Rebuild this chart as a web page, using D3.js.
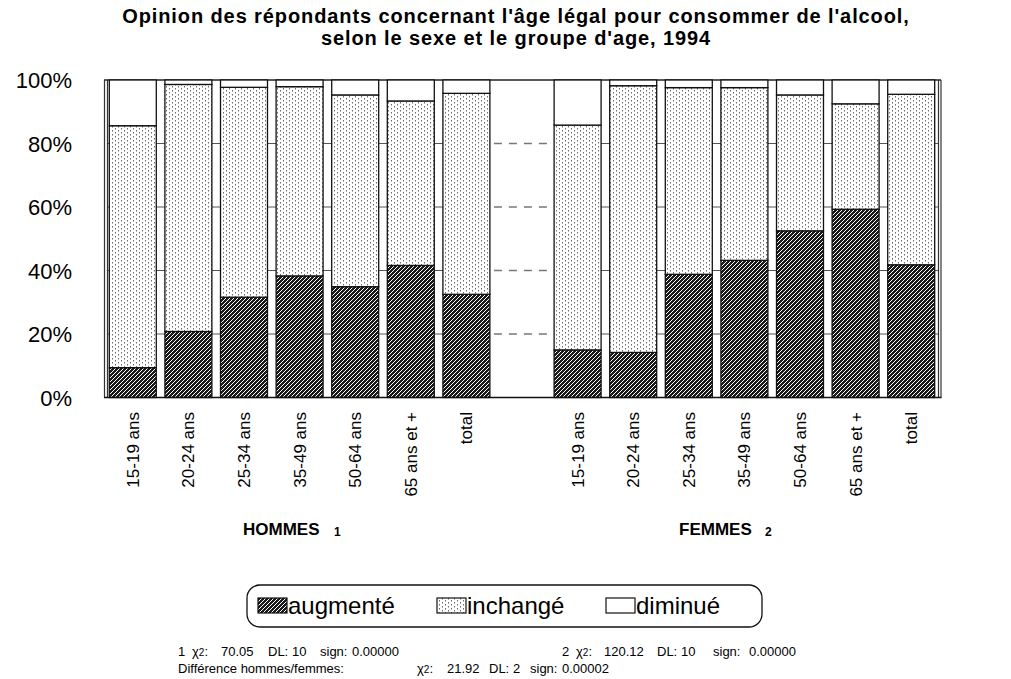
<!DOCTYPE html>
<html><head><meta charset="utf-8">
<script src="https://cdn.jsdelivr.net/npm/d3@7"></script>
<style>body{margin:0;background:#fff;} svg{display:block;font-family:"Liberation Sans",Arial,Helvetica,sans-serif;} .pre{white-space:pre;}</style>
</head><body><svg id="c" width="1011" height="679"></svg>
<script>
// ---------- data ----------
const groups = ["HOMMES", "FEMMES"];
const groupNotes = ["1", "2"];
const ageGroups = ["15-19 ans","20-24 ans","25-34 ans","35-49 ans","50-64 ans","65 ans et +","total"];
const seriesNames = ["augmenté","inchangé","diminué"];
const hommesAugmente = [9.4, 20.8, 31.6, 38.3, 34.9, 41.6, 32.5];
const hommesInchange = [76.2, 77.8, 66.1, 59.6, 60.4, 51.8, 63.3];
const hommesDiminue  = [14.4, 1.4, 2.3, 2.1, 4.7, 6.6, 4.2];
const femmesAugmente = [15.0, 14.2, 38.8, 43.2, 52.5, 59.3, 41.8];
const femmesInchange = [70.8, 84.0, 58.8, 54.4, 42.8, 33.2, 53.7];
const femmesDiminue  = [14.2, 1.8, 2.4, 2.4, 4.7, 7.5, 4.5];
const yTicks = [0, 20, 40, 60, 80, 100];

// ---------- build rows ----------
const rows = [];
ageGroups.forEach((a,i)=>rows.push({key:"H|"+a, label:a, group:0, v:[hommesAugmente[i],hommesInchange[i],hommesDiminue[i]]}));
const gapKey = "gap";
ageGroups.forEach((a,i)=>rows.push({key:"F|"+a, label:a, group:1, v:[femmesAugmente[i],femmesInchange[i],femmesDiminue[i]]}));
const domain = rows.slice(0,7).map(d=>d.key).concat([gapKey], rows.slice(7).map(d=>d.key));

const svg = d3.select("#c");
const defs = svg.append("defs");
// hatch pattern (augmenté)
const ph = defs.append("pattern").attr("id","pAug").attr("patternUnits","userSpaceOnUse").attr("width",4).attr("height",4);
ph.append("rect").attr("width",4).attr("height",4).attr("fill","#1a1a1a");
ph.append("path").attr("d","M-1,1 L1,-1 M0,4 L4,0 M3,5 L5,3").attr("stroke","#fff").attr("stroke-width",1);
// dotted pattern (inchangé)
const pd = defs.append("pattern").attr("id","pInc").attr("patternUnits","userSpaceOnUse").attr("width",6).attr("height",4);
pd.append("rect").attr("width",6).attr("height",4).attr("fill","#fff");
pd.append("rect").attr("x",1).attr("y",0).attr("width",1).attr("height",1.5).attr("fill","#6a6a6a");
pd.append("rect").attr("x",4).attr("y",2).attr("width",1).attr("height",1.5).attr("fill","#6a6a6a");
const fills = ["url(#pAug)","url(#pInc)","#fff"];

// ---------- scales ----------
const pIn = 0.155;
const x = d3.scaleBand().domain(domain).range([105, 939]).paddingInner(pIn).paddingOuter(pIn/2);
const y = d3.scaleLinear().domain([0,100]).range([397.5, 80]);

// gridlines
const hEnd = x(rows[6].key) + x.bandwidth();
const fStart = x(rows[7].key);
const gg = svg.append("g");
yTicks.filter(t=>t>0 && t<100).forEach(t=>{
  gg.append("line").attr("x1",107).attr("x2",hEnd).attr("y1",y(t)).attr("y2",y(t)).attr("stroke","#555").attr("stroke-width",1);
  gg.append("line").attr("x1",fStart).attr("x2",939).attr("y1",y(t)).attr("y2",y(t)).attr("stroke","#555").attr("stroke-width",1);
  gg.append("line").attr("x1",hEnd+4).attr("x2",fStart).attr("y1",y(t)).attr("y2",y(t)).attr("stroke","#777").attr("stroke-width",1.3).attr("stroke-dasharray","8,7");
});
// top frame line
svg.append("line").attr("x1",104).attr("x2",941).attr("y1",y(100)).attr("y2",y(100)).attr("stroke","#222").attr("stroke-width",1.3);

// bars
const stack = rows.map(r=>{let c=0; return r.v.map((v,i)=>{const s={row:r,i:i,y0:c,y1:c+v}; c+=v; return s;});});
svg.append("g").selectAll("g").data(stack).join("g").selectAll("rect").data(d=>d).join("rect")
  .attr("x",d=>x(d.row.key)).attr("width",x.bandwidth())
  .attr("y",d=>y(d.y1)).attr("height",d=>y(d.y0)-y(d.y1))
  .attr("fill",d=>fills[d.i]).attr("stroke","#111").attr("stroke-width",1.3);

// axes frame
[104.5,107.5,938.5,941].forEach(xx=>svg.append("line").attr("x1",xx).attr("x2",xx).attr("y1",y(100)).attr("y2",y(0)).attr("stroke","#333").attr("stroke-width",1.2));
svg.append("line").attr("x1",104).attr("x2",941.5).attr("y1",y(0)).attr("y2",y(0)).attr("stroke","#111").attr("stroke-width",1.5);

// y labels
const ya = d3.axisLeft(y).tickValues(yTicks).tickFormat(d=>d+"%").tickSize(0).tickPadding(0);
const yg = svg.append("g").attr("transform","translate(72,0)").call(ya);
yg.select(".domain").remove();
yg.selectAll("text").attr("font-size",22).attr("fill","#000").attr("font-family","Liberation Sans, Arial, sans-serif").attr("dy","0.36em");

// x labels
svg.append("g").selectAll("text").data(rows).join("text")
  .attr("transform",d=>`translate(${x(d.key)+x.bandwidth()/2},412) rotate(-90)`)
  .attr("dy","0.35em").attr("text-anchor","end").attr("font-size",17).attr("fill","#000").text(d=>d.label);

// group labels
const groupX = [243, 679];
const noteX = [334, 765];
groups.forEach((g,i)=>{
  svg.append("text").attr("x",groupX[i]).attr("y",535).attr("font-weight","bold").attr("font-size",17).text(g);
  svg.append("text").attr("x",noteX[i]).attr("y",536).attr("font-weight","bold").attr("font-size",12).text(groupNotes[i]);
});

// title
const titleLines = ["Opinion des répondants concernant l'âge légal pour consommer de l'alcool,",
                    "selon le sexe et le groupe d'age, 1994"];
titleLines.forEach((s,i)=>{
  svg.append("text").attr("x",516).attr("y",23 + i*22).attr("text-anchor","middle")
    .attr("font-weight","bold").attr("font-size",20).attr("letter-spacing",0.9).attr("fill","#000").text(s);
});

// legend
const lg = svg.append("g");
lg.append("rect").attr("x",247).attr("y",585).attr("width",515).attr("height",42).attr("rx",13).attr("fill","#fff").attr("stroke","#111").attr("stroke-width",1.3);
const legX = [258, 437, 606];
seriesNames.forEach((s,i)=>{
  lg.append("rect").attr("x",legX[i]).attr("y",598).attr("width",29).attr("height",15).attr("fill",fills[i]).attr("stroke","#111").attr("stroke-width",1.2);
  lg.append("text").attr("x",legX[i]+30).attr("y",614).attr("font-size",24).attr("fill","#000").text(s);
});

// footnotes
const fn = svg.append("g").attr("font-size",13).attr("fill","#000");
function txt(xp, yp, s){ fn.append("text").attr("class","pre").attr("x",xp).attr("y",yp).text(s); }
function chi(xp, yp){
  const t = fn.append("text").attr("x",xp).attr("y",yp);
  t.append("tspan").text("χ");
  t.append("tspan").attr("font-size",10).text("2");
  t.append("tspan").text(":");
}
txt(178,656,"1"); chi(192,656);
txt(221,656,"70.05"); txt(268,656,"DL:"); txt(292,656,"10"); txt(320,656,"sign:"); txt(352,656,"0.00000");
txt(562,656,"2"); chi(576,656);
txt(604,656,"120.12"); txt(657,656,"DL:"); txt(681,656,"10"); txt(713,656,"sign:"); txt(749,656,"0.00000");
txt(178,673,"Différence hommes/femmes:"); chi(417,673);
txt(447,673,"21.92"); txt(489,673,"DL:"); txt(513,673,"2"); txt(530,673,"sign:"); txt(562,673,"0.00002");
</script></body></html>
